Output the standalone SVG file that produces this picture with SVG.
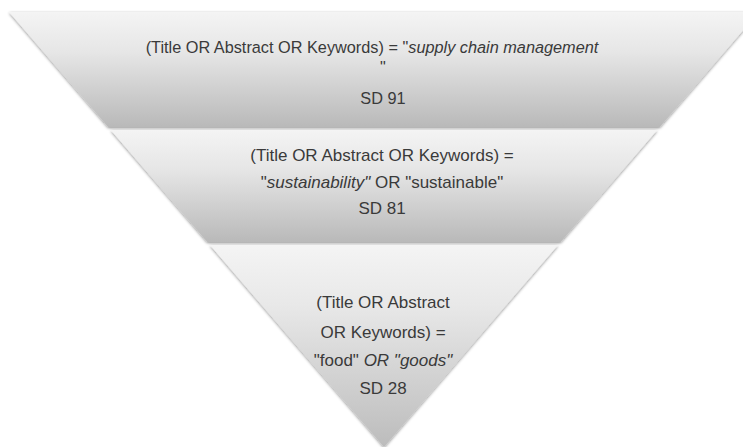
<svg xmlns="http://www.w3.org/2000/svg" width="743" height="447" viewBox="0 0 743 447">
  <defs>
    <linearGradient id="g1" x1="0" y1="0" x2="0" y2="1">
      <stop offset="0" stop-color="#f4f4f4"/>
      <stop offset="0.35" stop-color="#e6e6e6"/>
      <stop offset="1" stop-color="#b9b9b9"/>
    </linearGradient>
    <linearGradient id="g3" x1="0" y1="0" x2="0" y2="1">
      <stop offset="0" stop-color="#f4f4f4"/>
      <stop offset="0.3" stop-color="#e8e8e8"/>
      <stop offset="1" stop-color="#bcbcbc"/>
    </linearGradient>
    <filter id="sh" x="-5%" y="-5%" width="110%" height="115%">
      <feDropShadow dx="0" dy="1" stdDeviation="1.6" flood-color="#000" flood-opacity="0.45"/>
    </filter>
  </defs>
  <style>
    .t { font-family: "Liberation Sans", Arial, sans-serif; font-size: 17px; fill: #3a3a3a; text-anchor: middle; }
    .s { font-size: 16.3px; }
    .i { font-style: italic; }
    .band { filter: url(#sh); }
  </style>
  <rect width="743" height="447" fill="#ffffff"/>
  <g id="band1">
    <polygon class="band" points="9,12 759,12 659.8,127 108.2,127" fill="url(#g1)"/>
    <text class="t s" x="372" y="53">(Title OR Abstract OR Keywords) = "<tspan class="i">supply chain management</tspan></text>
    <text class="t s" x="383" y="73">"</text>
    <text class="t s" x="383" y="104">SD 91</text>
  </g>
  <g id="band2">
    <polygon class="band" points="110.7,130 657.3,130 560.7,242 207.3,242" fill="url(#g1)"/>
    <text class="t" x="382" y="161">(Title OR Abstract OR Keywords) =</text>
    <text class="t" x="382" y="188">"<tspan class="i">sustainability"</tspan> OR "sustainable"</text>
    <text class="t" x="382" y="214">SD 81</text>
  </g>
  <g id="band3">
    <polygon class="band" points="209.9,245 558.1,245 384,447" fill="url(#g3)"/>
    <text class="t" x="383" y="308">(Title OR Abstract</text>
    <text class="t" x="383" y="338">OR Keywords) =</text>
    <text class="t" x="383" y="366">"food" <tspan class="i">OR "goods"</tspan></text>
    <text class="t" x="383" y="394">SD 28</text>
  </g>
  <g id="connectors"/>
</svg>
